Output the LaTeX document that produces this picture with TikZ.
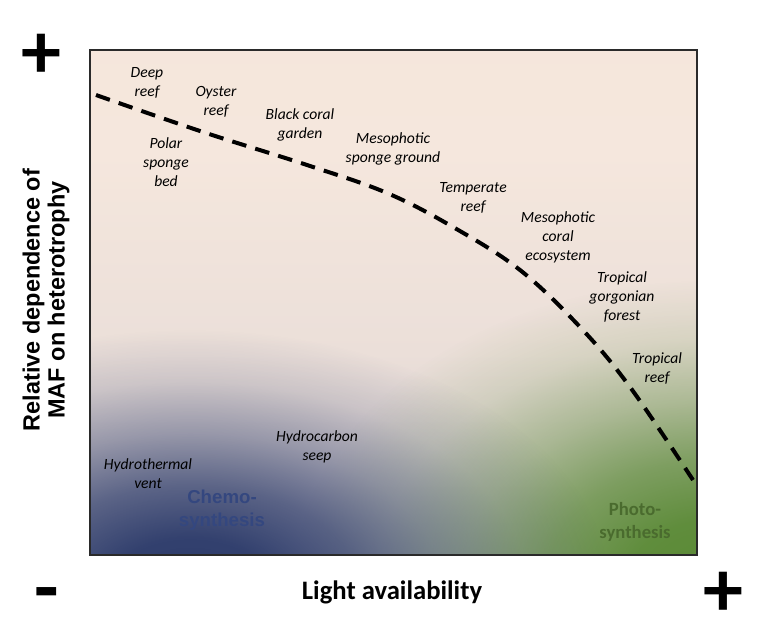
\documentclass[tikz,border=0pt]{standalone}
\usepackage{fontspec}
\setmainfont{Carlito}
\newfontfamily\arialfont{Liberation Sans}
\usetikzlibrary{fadings}
\definecolor{bgtop}{HTML}{F5E5D8}
\definecolor{bgpeach}{HTML}{F5E7DD}
\definecolor{bgmid}{HTML}{EBDFD9}
\definecolor{bglav}{HTML}{CFC9CC}
\definecolor{bgbot}{HTML}{A9AAB6}
\definecolor{navyblob}{HTML}{2B3A6A}
\definecolor{greenblob}{HTML}{5A8A35}
\definecolor{chemocol}{HTML}{34477F}
\definecolor{photocol}{HTML}{4A6B2E}
\definecolor{framecol}{HTML}{2A2A2A}
\pgfdeclareverticalshading{bgshade}{100bp}{color(0bp)=(bgbot); color(25bp)=(bglav); color(45bp)=(bgmid); color(65bp)=(bgpeach); color(100bp)=(bgtop)}
\pgfdeclareradialshading{softshade}{\pgfpointorigin}{color(0bp)=(white); color(5bp)=(white!95!black); color(10bp)=(white!72!black); color(15bp)=(white!40!black); color(20bp)=(white!14!black); color(25bp)=(black); color(50bp)=(black)}
\pgfdeclarefading{softfade}{\pgfuseshading{softshade}}
\tikzset{
  eco/.style={font=\fontsize{11.7}{14.25}\selectfont\itshape, align=center, inner sep=0pt, text=black},
  chemo/.style={font=\arialfont\bfseries\fontsize{14}{17.25}\selectfont, align=center, inner sep=0pt, text=chemocol},
  photo/.style={font=\bfseries\fontsize{14}{17.25}\selectfont, align=center, inner sep=0pt, text=photocol},
  axislabel/.style={font=\bfseries\fontsize{20}{24}\selectfont, inner sep=0pt},
  vaxislabel/.style={font=\arialfont\bfseries\fontsize{17.6}{18.75}\selectfont, align=center, inner sep=0pt, rotate=90},
  sign/.style={font=\bfseries\fontsize{60}{60}\selectfont, inner sep=0pt},
  frame/.style={draw=framecol, line width=1.1pt},
  trend/.style={draw=black, line width=3pt, dash pattern=on 11pt off 7pt}
}
\begin{document}
\begin{tikzpicture}[x=0.75pt,y=-0.75pt]
\useasboundingbox (0,0) rectangle (772,636);
\begin{scope}
  \clip (90,50) rectangle (697,555);
  \shade[shading=bgshade] (90,50) rectangle (697,555);
  \fill[greenblob, path fading=softfade] (715,580) ellipse [x radius=420, y radius=300];
  \fill[navyblob, path fading=softfade] (190,590) ellipse [x radius=420, y radius=260];
\end{scope}
\draw[frame] (90,50) rectangle (697,555);
\draw[trend] plot[smooth, tension=0.6] coordinates {(96,95) (203,132) (307,165) (387,193) (453,227) (520,270) (580,327) (630,387) (693,480)};
% labels
\node[eco] (deep) at (147,83) {Deep\\reef};
\node[eco] (oyster) at (216,102) {Oyster\\reef};
\node[eco] (polar) at (166,162) {Polar\\sponge\\bed};
\node[eco] (black) at (300,125) {Black coral\\garden};
\node[eco] (msponge) at (393,149) {Mesophotic\\sponge ground};
\node[eco] (temperate) at (473,198) {Temperate\\reef};
\node[eco] (mcoral) at (558,237) {Mesophotic\\coral\\ecosystem};
\node[eco] (gorgonian) at (622,297) {Tropical\\gorgonian\\forest};
\node[eco] (tropreef) at (657,368) {Tropical\\reef};
\node[eco] (seep) at (317,447) {Hydrocarbon\\seep};
\node[eco] (vent) at (148,474) {Hydrothermal\\vent};
\node[chemo] (chemo) at (222,510) {Chemo-\\synthesis};
\node[photo] (photo) at (635,522) {Photo-\\synthesis};
\node[axislabel] (xlab) at (392,592) {Light availability};
\node[vaxislabel] (ylab) at (46,300) {Relative dependence of\\MAF on heterotrophy};
\node[sign] (yplus) at (41,56) {+};
\node[sign] (xminus) at (47,601) {-};
\node[sign] (xplus) at (723,594) {+};
\end{tikzpicture}
\end{document}
